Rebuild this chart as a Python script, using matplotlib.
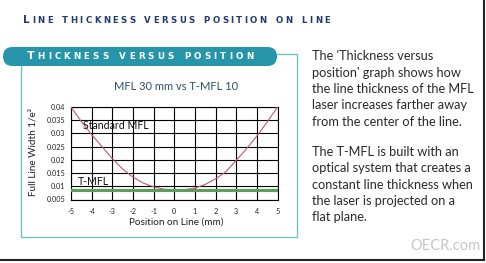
import matplotlib
matplotlib.use("Agg")
import matplotlib.pyplot as plt
from matplotlib.patches import FancyBboxPatch

plt.rcParams['font.family'] = ['Lato', 'DejaVu Sans']
plt.rcParams['axes.unicode_minus'] = False

# chart data
position = [-5, -4.5, -4, -3.5, -3, -2.5, -2, -1.5, -1, -0.5, 0,
            0.5, 1, 1.5, 2, 2.5, 3, 3.5, 4, 4.5, 5]
standard_mfl = [0.0400, 0.0345, 0.0295, 0.0250, 0.0205, 0.0165, 0.0135, 0.0112, 0.0098, 0.0089, 0.0086,
                0.0087, 0.0093, 0.0107, 0.0128, 0.0155, 0.0198, 0.0242, 0.0290, 0.0343, 0.0400]
tmfl_pos = [-5, 5]
tmfl_width = [0.0085, 0.0085]

x_ticks = [-5, -4, -3, -2, -1, 0, 1, 2, 3, 4, 5]
x_tick_labels = ['-5', '-4', '-3', '-2', '-1', '0', '1', '2', '3', '4', '5']
y_ticks = [0.005, 0.01, 0.015, 0.02, 0.025, 0.03, 0.035, 0.04]
y_tick_labels = ['0.005', '0.01', '0.015', '0.02', '0.025', '0.03', '0.035', '0.04']

page_title = "Line thickness versus position on line"
banner_title = "Thickness versus position"
chart_title = "MFL 30 mm vs T-MFL 10"
para1 = ["The 'Thickness versus",
         "position' graph shows how",
         "the line thickness of the MFL",
         "laser increases farther away",
         "from the center of the line."]
para2 = ["The T-MFL is built with an",
         "optical system that creates a",
         "constant line thickness when",
         "the laser is projected on a",
         "flat plane."]

W, H = 486, 263
fig = plt.figure(figsize=(W / 100, H / 100), dpi=100)
fig.patch.set_facecolor('white')

# background axes in pixel units
bg = fig.add_axes([0, 0, 1, 1])
bg.set_xlim(0, W)
bg.set_ylim(H, 0)
bg.axis('off')

renderer = fig.canvas.get_renderer()


def caps_text(x0, x1, y, text, big, small, color):
    # small caps with letter spacing stretched to fit between x0 and x1
    items = []
    widths = []
    for i, ch in enumerate(text):
        size = big if i == 0 else small
        t = bg.text(0, y, ch.upper(), fontsize=size, color=color, fontweight='bold',
                    family='DejaVu Sans', va='baseline', ha='left')
        items.append(t)
    for t, ch in zip(items, text):
        if ch == ' ':
            widths.append(small * 100 / 72 * 0.5)
        else:
            widths.append(t.get_window_extent(renderer).width)
    gap = (x1 - x0 - sum(widths)) / (len(text) - 1)
    x = x0
    for t, w in zip(items, widths):
        t.set_x(x)
        x += w + gap


caps_text(23, 330, 22.8, page_title, 7.4, 6.2, '#1f3c6c')

# box outline and banner
teal = '#2695aa'
light = '#72c2ce'
bg.plot([277, 297, 297, 21, 21], [54, 54, 237, 237, 66], color=light, lw=1.0)
banner = FancyBboxPatch((3, 47), 274, 19, boxstyle="round,pad=0,rounding_size=9.5",
                        facecolor=teal, edgecolor='none')
bg.add_patch(banner)
caps_text(27, 253, 59.0, banner_title, 7.9, 6.3, 'white')

# frame lines on right and bottom
bg.plot([484, 484], [0, 260], color='#222222', lw=1.5)
bg.plot([0, 484], [260, 260], color='#222222', lw=1.5)

# right-hand text
for i, line in enumerate(para1):
    bg.text(312, 56.5 + i * 16.3, line, fontsize=9.2, color='#2a2a2a', va='center', ha='left')
for i, line in enumerate(para2):
    bg.text(312, 152 + i * 16.3, line, fontsize=9.2, color='#2a2a2a', va='center', ha='left')
bg.text(480, 246.5, "OECR.com", fontsize=10.5, color='#c6c6c6', va='center', ha='right')

# the chart
ax = fig.add_axes([71 / W, 1 - 199.5 / H, 206.5 / W, 92.5 / H])
ax.plot(position, standard_mfl, color='#c9566e', lw=0.8, zorder=3)
ax.plot(tmfl_pos, tmfl_width, color='#5e9d5e', lw=2.3, zorder=4)
ax.set_xlim(-5, 5)
ax.set_ylim(0.005, 0.04)
ax.set_xticks(x_ticks)
ax.set_xticklabels(x_tick_labels)
ax.set_yticks(y_ticks)
ax.set_yticklabels(y_tick_labels)
ax.grid(True, color='black', lw=0.8)
ax.tick_params(length=0, labelsize=5.2, pad=4, colors='#222222')
ax.tick_params(axis='x', pad=6)
for s in ax.spines.values():
    s.set_color('black')
    s.set_linewidth(0.8)

ax.text(-4.42, 0.0329, "Standard MFL", fontsize=7.6, color='#111111', va='center', ha='left', zorder=5)
ax.text(-4.68, 0.0118, "T-MFL", fontsize=7.6, color='#111111', va='center', ha='left', zorder=5)

ax.text(0.51, (199.5 - 87) / 92.5, chart_title, transform=ax.transAxes,
        fontsize=8, color='#2c5070', ha='center', va='center')
ax.set_xlabel("Position on Line (mm)", fontsize=7.2, color='#222222')
ax.xaxis.set_label_coords(0.512, -0.2)
ax.set_ylabel("Full Line Width 1/e²", fontsize=7.2, color='#222222')
ax.yaxis.set_label_coords(-0.184, 0.51)
ax.yaxis.label.set_va('center')

fig.savefig("out.png", dpi=100, facecolor='white')
